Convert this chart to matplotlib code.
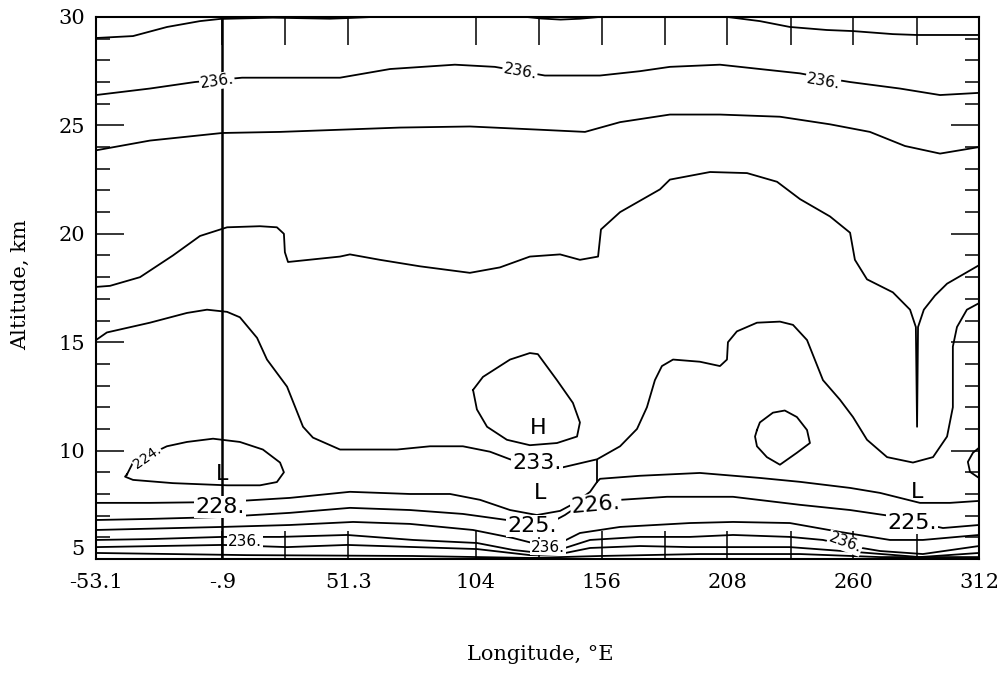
import matplotlib
matplotlib.use("Agg")
import matplotlib.pyplot as plt

# ---------------- data (longitude °E, altitude km) ----------------
x_ticks_major = [-53.1, -0.9, 51.3, 104, 156, 208, 260, 312]
x_tick_labels = ["-53.1", "-.9", "51.3", "104", "156", "208", "260", "312"]
x_ticks_minor = [25.2, 129.9, 182.0, 234.2, 286.2]
y_ticks_major = [5, 10, 15, 20, 25, 30]
y_ticks_minor = [6, 7, 8, 9, 11, 12, 13, 14, 16, 17, 18, 19, 21, 22, 23, 24, 26, 27, 28, 29]
marker_lon = -0.9

c_top_lon = [-53.1, -37.8, -23.7, -10.1, -1.8, 20, 43.6, 50.7, 61, 125, 131, 139, 147, 155, 208,
             221.4, 233.8, 249.1, 259.9, 276.4, 286.4, 312]
c_top_alt = [29.03, 29.12, 29.54, 29.81, 29.91, 29.97, 29.92, 29.95, 30.0, 30.0, 29.93, 29.88, 29.92,
             30.0, 30.0, 29.81, 29.54, 29.40, 29.35, 29.21, 29.17, 29.17]

c27_lon = [-53.1, -30.8, -12.2, 7.3, 27.1, 47.8, 68.5, 95.3, 111.8, 122.2, 132.5, 155.3, 171.8, 184.2,
           204.9, 221.4, 238.0, 247.5, 258.7, 279.3, 295.9, 312]
c27_alt = [26.4, 26.7, 27.0, 27.2, 27.2, 27.2, 27.6, 27.8, 27.7, 27.5, 27.3, 27.3, 27.5, 27.7,
           27.8, 27.6, 27.4, 27.2, 27.0, 26.7, 26.4, 26.5]

c25_lon = [-53.1, -30.8, -0.9, 23.0, 47.8, 72.6, 101.5, 130.5, 149.1, 163.6, 184.2, 204.9, 229.7,
           250.4, 266.9, 281.4, 295.9, 312]
c25_alt = [23.85, 24.3, 24.65, 24.7, 24.8, 24.9, 24.95, 24.8, 24.7, 25.15, 25.5, 25.5, 25.4,
           25.05, 24.7, 24.05, 23.7, 24.0]

c20_lon = [-53.1, -47.3, -34.9, -21.3, -10.1, 1.1, 14.7, 21.7, 24.6, 25.0, 26.3, 47.8, 51.9, 64.3,
           80.9, 101.5, 113.9, 126.3, 138.8, 147.0, 154.5, 155.7, 163.6, 180.1, 184.2, 200.8, 216.1,
           228.5, 238.0, 250.4, 258.7, 260.7, 265.7, 276.4, 283.5, 285.9, 286.4, 286.8, 289.2, 293.8,
           298.8, 312]
c20_alt = [17.55, 17.6, 18.0, 19.0, 19.9, 20.3, 20.35, 20.3, 20.0, 19.15, 18.7, 18.95, 19.05, 18.8,
           18.5, 18.2, 18.45, 18.95, 19.05, 18.8, 18.95, 20.2, 21.0, 22.05, 22.5, 22.85, 22.8,
           22.4, 21.6, 20.8, 20.05, 18.8, 17.9, 17.3, 16.5, 15.7, 11.1, 15.7, 16.5, 17.15,
           17.7, 18.55]

c15_lon = [-53.1, -48.6, -30.8, -15.5, -7.2, 1.1, 6.4, 13.5, 17.6, 25.9, 32.5, 36.6, 47.8, 57.3,
           71.4, 85.0, 98.6, 109.8, 118.1, 126.3, 138.8, 154.1, 163.6, 170.6, 174.7, 178.0, 180.9,
           185.5, 196.6, 204.9, 207.8, 208.2, 211.9, 220.2, 229.7, 235.1, 240.9, 247.5, 254.5,
           259.9, 265.7, 274.0, 284.7, 293.0, 298.8, 301.2, 301.2, 302.9, 307.0, 312]
c15_alt = [15.1, 15.45, 15.9, 16.35, 16.5, 16.4, 16.15, 15.2, 14.2, 12.95, 11.1, 10.6, 10.05, 10.05,
           10.05, 10.2, 10.2, 9.95, 9.6, 9.35, 9.2, 9.6, 10.2, 11.0, 12.0, 13.25, 13.9,
           14.2, 14.1, 13.9, 14.2, 15.0, 15.5, 15.9, 15.95, 15.8, 15.1, 13.25, 12.35,
           11.55, 10.5, 9.7, 9.45, 9.7, 10.65, 12.0, 14.8, 15.7, 16.5, 16.8]

loop_h_lon = [102.8, 106.9, 118.1, 126.3, 129.6, 137.5, 144.1, 147.0, 145.8, 137.5, 126.3, 116.8,
              108.6, 104.4, 102.8]
loop_h_alt = [12.8, 13.4, 14.2, 14.5, 14.45, 13.25, 12.2, 11.3, 10.65, 10.35, 10.25, 10.5,
              11.1, 11.9, 12.8]

loop_small_lon = [220.2, 221.4, 226.8, 231.7, 236.7, 240.9, 242.1, 236.7, 229.7, 224.3, 220.2, 219.4, 220.2]
loop_small_alt = [10.95, 11.3, 11.75, 11.85, 11.55, 10.95, 10.35, 9.9, 9.35, 9.7, 10.2, 10.65, 10.95]

loop_224_lon = [-40.3, -37.8, -23.8, -15.5, -4.7, 6.4, 15.9, 23.0, 24.6, 21.7, 14.7, 1.1, -21.3,
                -37.8, -41.1, -40.3]
loop_224_alt = [8.9, 9.45, 10.2, 10.4, 10.55, 10.4, 10.05, 9.45, 9.0, 8.55, 8.4, 8.4, 8.5,
                8.65, 8.8, 8.9]

bulge_lon = [312, 309.5, 307.4, 308.3, 312]
bulge_alt = [10.13, 9.9, 9.48, 9.02, 8.74]

cf_lon = [-53.1, -30.8, -0.9, 27.1, 51.9, 76.7, 93.3, 105.7, 118.1, 129.2, 138.8, 145.0, 151.2,
          154.1, 155.3, 171.8, 196.6, 221.4, 238.0, 258.7, 271.1, 287.6, 300.0, 312]
cf_alt = [7.59, 7.59, 7.63, 7.82, 8.10, 8.00, 8.00, 7.73, 7.26, 7.03, 7.22, 7.59, 8.10,
          8.56, 8.70, 8.84, 8.97, 8.74, 8.56, 8.28, 8.05, 7.59, 7.59, 7.68]
link_lon = [154.1, 154.1]
link_alt = [9.57, 8.56]

cg_lon = [-53.1, -30.8, -0.9, 27.1, 51.9, 76.7, 98.6, 116.8, 126.3, 134.6, 140.8, 147.0, 155.3,
          163.6, 183.0, 210.3, 238.0, 258.7, 275.2, 285.5, 297.1, 312]
cg_alt = [6.80, 6.85, 6.94, 7.13, 7.36, 7.26, 7.08, 6.80, 6.57, 6.66, 7.03, 7.50, 7.73,
          7.73, 7.87, 7.87, 7.50, 7.26, 6.99, 6.71, 6.43, 6.57]

ch_lon = [-53.1, -0.9, 27.1, 53.2, 76.7, 102.8, 119.3, 130.5, 138.8, 147.0, 163.6, 192.5, 210.3,
          233.8, 254.5, 275.2, 288.8, 312]
ch_alt = [6.34, 6.48, 6.57, 6.71, 6.62, 6.34, 5.97, 5.65, 5.74, 6.20, 6.48, 6.66, 6.71,
          6.66, 6.25, 5.88, 5.88, 6.11]

ci_lon = [-53.1, -30.8, -0.9, 23.0, 50.7, 78.0, 104.4, 119.3, 130.5, 140.8, 151.2, 171.8, 192.5,
          210.3, 233.8, 247.5, 258.7, 271.1, 288.8, 312]
ci_alt = [5.88, 5.92, 6.02, 6.02, 6.11, 5.88, 5.74, 5.42, 5.28, 5.51, 5.88, 6.02, 6.02,
          6.11, 6.02, 5.88, 5.60, 5.37, 5.23, 5.60]

cj_lon = [-53.1, -0.9, 25.9, 50.7, 104.4, 126.3, 138.8, 151.2, 171.8, 192.5, 233.8, 261.5, 287.6, 312]
cj_alt = [5.55, 5.65, 5.55, 5.65, 5.46, 5.18, 5.23, 5.51, 5.60, 5.55, 5.55, 5.32, 5.09, 5.28]

ck_lon = [-53.1, 9.3, 78.0, 126.3, 155.3, 196.6, 238.0, 271.1, 312]
ck_alt = [5.28, 5.18, 5.14, 5.05, 5.14, 5.23, 5.23, 5.09, 5.09]

# contour labels: text, lon, alt, size, rotation
label_text = ["236.", "236.", "236.", "224.", "228.", "236.", "233.", "226.", "225.", "236.",
              "225.", "236."]
label_lon = [-3.1, 122.2, 247.5, -32.0, -1.8, 8.5, 129.2, 153.6, 127.2, 133.8, 284.3, 256.6]
label_alt = [27.04, 27.5, 27.04, 9.71, 7.40, 5.83, 9.44, 7.50, 6.52, 5.55, 6.66, 5.74]
label_size = [11, 11, 11, 10, 16, 11, 16, 16, 16, 11, 16, 11]
label_rot = [8, -10, -10, 35, 0, 0, 0, 5, 0, 0, 0, -20]

letter_text = ["L", "H", "L", "L"]
letter_lon = [-0.9, 129.6, 130.5, 286.4]
letter_alt = [8.93, 11.05, 8.05, 8.10]

# ---------------- figure ----------------
plt.rcParams['font.family'] = ['DejaVu Serif']
fig = plt.figure(figsize=(10.01, 6.85), dpi=100)
ax = fig.add_axes([0.0959, 0.1839, 0.8821, 0.7913])

lines = [(c_top_lon, c_top_alt), (c27_lon, c27_alt), (c25_lon, c25_alt), (c20_lon, c20_alt),
         (c15_lon, c15_alt), (loop_h_lon, loop_h_alt), (loop_small_lon, loop_small_alt),
         (loop_224_lon, loop_224_alt), (bulge_lon, bulge_alt), (cf_lon, cf_alt),
         (link_lon, link_alt), (cg_lon, cg_alt), (ch_lon, ch_alt), (ci_lon, ci_alt),
         (cj_lon, cj_alt), (ck_lon, ck_alt)]
for lx, ly in lines:
    ax.plot(lx, ly, color='black', lw=1.3, solid_joinstyle='round', zorder=2)

ax.axvline(marker_lon, color='black', lw=1.8, zorder=2)

for t, lx, ly, s, r in zip(label_text, label_lon, label_alt, label_size, label_rot):
    ax.text(lx, ly, t, fontsize=s, rotation=r, ha='center', va='center',
            family='DejaVu Sans', zorder=4,
            bbox=dict(boxstyle='square,pad=0.05', fc='white', ec='none'))
for t, lx, ly in zip(letter_text, letter_lon, letter_alt):
    ax.text(lx, ly, t, fontsize=16, ha='center', va='center', family='DejaVu Sans', zorder=4)

ax.set_xlim(-53.1, 312)
ax.set_ylim(5, 30)
ax.set_xticks(x_ticks_major)
ax.set_xticklabels(x_tick_labels)
ax.set_xticks(x_ticks_minor, minor=True)
ax.set_yticks(y_ticks_major)
ax.set_yticks(y_ticks_minor, minor=True)

ax.tick_params(axis='x', which='both', direction='in', top=True, bottom=True,
               length=20, width=1.1, labelsize=15, pad=10)
ax.tick_params(axis='y', which='major', direction='in', left=True, right=True,
               length=20, width=1.1, labelsize=15, pad=8)
ax.tick_params(axis='y', which='minor', direction='in', left=True, right=True,
               length=10, width=1.1)
for lab in ax.get_yticklabels():
    if lab.get_text() == '5':
        lab.set_va('bottom')

for sp in ax.spines.values():
    sp.set_linewidth(1.5)

fig.text(21 / 1001, 1 - 285 / 685, "Altitude, km", rotation=90, ha='center', va='center',
         fontsize=15)
fig.text(540 / 1001, 1 - 655 / 685, "Longitude, \u00b0E", ha='center', va='center', fontsize=15)

fig.savefig("out.png", dpi=100)
